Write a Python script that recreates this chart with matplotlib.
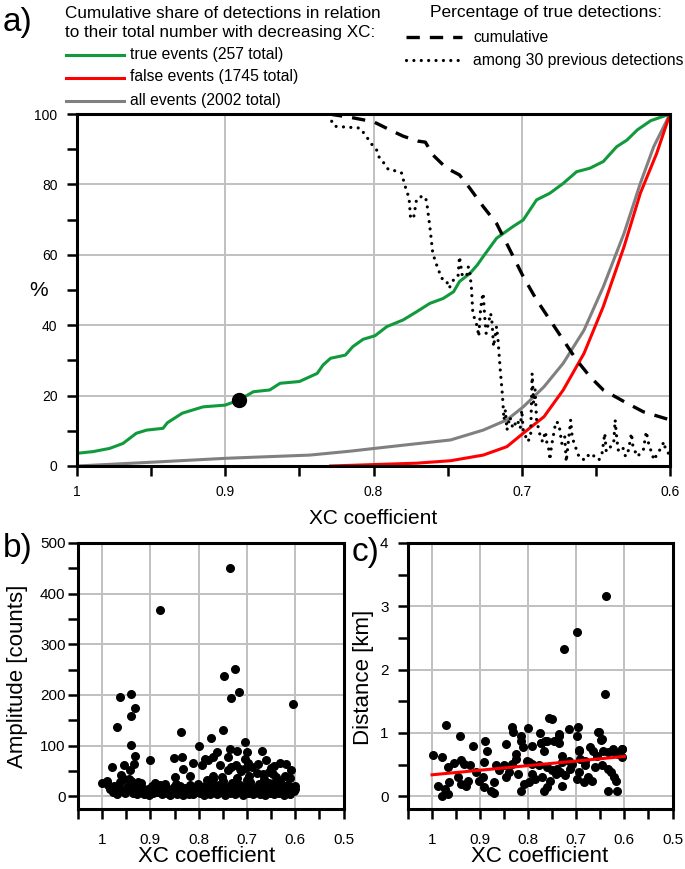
import matplotlib.pyplot as plt
from matplotlib.lines import Line2D

plt.rcParams['font.family'] = ['Liberation Sans', 'DejaVu Sans']

# ---- panel a: cumulative shares (XC coefficient -> %) ----
true_xc = [1.0, 0.989, 0.978, 0.969, 0.96, 0.953, 0.942, 0.939, 0.929, 0.915, 0.9, 0.891,
           0.881, 0.87, 0.863, 0.85, 0.838, 0.834, 0.829, 0.819, 0.814, 0.807, 0.799, 0.791,
           0.780, 0.771, 0.762, 0.753, 0.746, 0.742, 0.735, 0.730, 0.726, 0.717, 0.706, 0.699,
           0.690, 0.681, 0.672, 0.663, 0.654, 0.645, 0.636, 0.629, 0.622, 0.613, 0.6]
true_pct = [3.6, 4.1, 5.0, 6.4, 9.3, 10.2, 10.7, 12.3, 15.0, 16.8, 17.3, 18.7,
            21.1, 21.6, 23.5, 24.0, 26.3, 28.7, 30.6, 31.5, 33.9, 36.0, 37.0, 39.6,
            41.5, 43.8, 46.2, 47.6, 49.5, 52.4, 54.7, 57.1, 59.5, 64.7, 68.0, 69.9,
            75.6, 77.5, 80.3, 83.6, 84.6, 86.5, 90.7, 92.6, 95.5, 98.1, 100]

false_xc = [0.829, 0.771, 0.748, 0.726, 0.710, 0.699, 0.685, 0.672, 0.658, 0.645, 0.631, 0.620, 0.609, 0.6]
false_pct = [0, 0.8, 1.5, 3.1, 5.5, 9.3, 14.0, 21.6, 32.0, 45.3, 62.3, 77.5, 88.8, 100]

all_xc = [1.0, 0.944, 0.899, 0.843, 0.816, 0.793, 0.748, 0.726, 0.710, 0.699, 0.685, 0.672,
          0.658, 0.645, 0.631, 0.620, 0.611, 0.6]
all_pct = [0, 1.2, 2.2, 3.1, 4.2, 5.3, 7.4, 10.2, 13.1, 16.8, 22.5, 29.2,
           38.6, 50.9, 66.1, 80.3, 90.7, 100]

cum_xc = [0.83, 0.815, 0.80, 0.789, 0.78, 0.77, 0.765, 0.76, 0.751, 0.742, 0.735, 0.726,
          0.717, 0.708, 0.699, 0.690, 0.681, 0.672, 0.663, 0.654, 0.645, 0.631, 0.618, 0.6]
cum_pct = [100, 99.0, 97.8, 95.5, 93.7, 92.3, 92.0, 88.4, 84.7, 82.7, 78.9, 73.7,
           68.9, 61.4, 53.8, 47.2, 41.5, 35.8, 30.1, 25.4, 21.6, 18.3, 15.4, 13.1]

run_xc = [0.829, 0.828, 0.826, 0.809, 0.805, 0.801, 0.798, 0.796, 0.792, 0.790, 0.783, 0.781,
          0.779, 0.776, 0.775, 0.773, 0.771, 0.769, 0.765, 0.764, 0.762, 0.760, 0.757, 0.754,
          0.751, 0.749, 0.746, 0.743, 0.742, 0.740, 0.737, 0.736, 0.735, 0.734, 0.733, 0.730,
          0.729, 0.728, 0.727, 0.726, 0.725, 0.724, 0.721, 0.720, 0.719, 0.717, 0.716, 0.715,
          0.7145, 0.713, 0.712, 0.711, 0.710, 0.708, 0.706, 0.703, 0.701, 0.700, 0.699, 0.696,
          0.694, 0.693, 0.692, 0.691, 0.690, 0.688, 0.686, 0.684, 0.683, 0.682, 0.681, 0.680,
          0.677, 0.675, 0.674, 0.673, 0.671, 0.670, 0.667, 0.666, 0.665, 0.663, 0.661, 0.657,
          0.655, 0.653, 0.650, 0.648, 0.646, 0.644, 0.643, 0.640, 0.638, 0.637, 0.636, 0.635,
          0.632, 0.630, 0.628, 0.626, 0.625, 0.622, 0.620, 0.618, 0.616, 0.614, 0.612, 0.611,
          0.607, 0.604, 0.603, 0.601, 0.599]
run_pct = [100, 97.4, 96.5, 96.0, 93.7, 91.3, 89.9, 87.5, 85.6, 84.2, 83.7, 83.2,
           79.9, 76.1, 70.4, 70.4, 75.6, 76.5, 76.5, 74.6, 68.0, 60.4, 56.6, 53.3,
           52.9, 50.5, 52.9, 53.8, 59.5, 53.8, 54.3, 56.6, 54.7, 51.0, 43.4, 39.6,
           36.8, 43.4, 47.2, 49.1, 42.5, 37.7, 43.4, 40.6, 33.9, 39.6, 35.8, 30.1,
           27.3, 20.0, 13.1, 15.9, 10.2, 14.0, 10.7, 13.1, 10.7, 15.9, 10.2, 6.9,
           8.3, 26.3, 17.8, 21.6, 13.1, 9.3, 6.9, 9.8, 6.4, 5.5, 1.7, 5.5,
           12.6, 12.1, 9.3, 6.4, 8.3, 1.2, 13.1, 8.3, 6.9, 4.5, 2.2, 1.7,
           3.1, 3.6, 2.2, 1.7, 3.1, 9.3, 4.1, 5.5, 6.4, 13.1, 8.3, 4.5,
           5.5, 2.7, 4.5, 9.3, 5.5, 2.7, 3.6, 4.5, 9.8, 5.5, 3.6, 1.7,
           4.5, 6.9, 4.5, 3.6, 2.7]

marker_xc, marker_pct = 0.891, 18.7

# ---- panel b: amplitude of true events ----
amp_xc = [0.735, 0.881, 0.725, 0.748, 0.716, 0.733, 0.605, 0.964, 0.940, 0.931, 0.940, 0.970,
          0.940, 0.836, 0.749, 0.775, 0.799, 0.705, 0.900, 0.933, 0.979, 0.955, 0.942, 0.935,
          0.851, 0.835, 0.832, 0.812, 0.819, 0.849, 0.794, 0.787, 0.780, 0.770, 0.763, 0.756,
          0.740, 0.735, 0.720, 0.722, 0.715, 0.701, 0.705, 0.698, 0.696, 0.677, 0.668, 0.660,
          0.667, 0.645, 0.632, 0.619, 0.608, 0.646, 0.622, 0.751, 0.770, 0.679,
          0.740, 0.733, 0.712, 0.703, 0.690, 0.655, 0.650, 0.782, 0.770, 0.720, 0.700, 0.665,
          0.640, 0.640, 0.612, 0.600, 0.960, 0.945, 0.920,
          1.0, 0.990, 0.987, 0.983, 0.978, 0.976, 0.972, 0.969, 0.965, 0.962, 0.959, 0.955,
          0.952, 0.948, 0.944, 0.941, 0.937, 0.935, 0.931, 0.928, 0.925, 0.921, 0.918, 0.914,
          0.911, 0.906, 0.903, 0.900, 0.897, 0.894, 0.891, 0.887, 0.884, 0.880, 0.877, 0.873,
          0.870, 0.866, 0.863, 0.859, 0.855, 0.852, 0.848, 0.845, 0.842, 0.838, 0.835, 0.832,
          0.828, 0.825, 0.821, 0.818, 0.814, 0.811, 0.808, 0.804, 0.801, 0.797, 0.794, 0.790,
          0.787, 0.783, 0.780, 0.776, 0.773, 0.770, 0.766, 0.763, 0.759, 0.756, 0.752, 0.749,
          0.746, 0.742, 0.739, 0.735, 0.732, 0.728, 0.725, 0.721, 0.718, 0.714, 0.711, 0.708,
          0.704, 0.701, 0.697, 0.694, 0.690, 0.687, 0.683, 0.680, 0.676, 0.673, 0.669, 0.666,
          0.662, 0.659, 0.655, 0.652, 0.648, 0.645, 0.641, 0.638, 0.634, 0.631, 0.627, 0.624,
          0.620, 0.617, 0.613, 0.610, 0.606, 0.603, 0.600]
amp_val = [450, 367, 251, 237, 206, 195, 183, 197, 201, 174, 158, 136,
           102, 127, 131, 115, 99, 107, 72, 79, 58, 61, 51, 64,
           76, 77, 53, 66, 40, 38, 61, 74, 72, 77, 87, 61,
           77, 94, 90, 61, 54, 87, 74, 65, 41, 63, 90, 72,
           44, 59, 66, 64, 51, 44, 41, 38, 41, 47,
           52, 58, 50, 55, 58, 49, 56, 33, 34, 36, 33, 35,
           30, 38, 36, 20, 42, 35, 26,
           27, 31, 22, 14, 8, 20, 12, 5, 17, 28, 10, 35,
           6, 18, 12, 30, 7, 22, 13, 4, 29, 10, 17, 5,
           8, 14, 3, 11, 20, 6, 27, 9, 15, 22, 4, 12,
           25, 7, 14, 3, 9, 18, 24, 5, 13, 20, 8, 3,
           16, 10, 5, 22, 12, 4, 8, 17, 25, 6, 13, 3,
           20, 9, 15, 5, 28, 11, 18, 4, 22, 8, 14, 31,
           3, 10, 19, 6, 26, 12, 4, 17, 8, 23, 14, 3,
           9, 20, 6, 28, 12, 4, 16, 9, 24, 5, 13, 19,
           3, 10, 27, 7, 15, 4, 21, 11, 6, 30, 14, 3,
           9, 22, 12, 5, 18, 10, 15]

# ---- panel c: distance of true events ----
dist_xc = [0.638, 0.698, 0.725, 0.640, 0.970, 0.999, 0.941, 0.979, 0.914, 0.890, 0.885, 0.847,
           0.834, 0.831, 0.814, 0.816, 0.810, 0.826, 0.800, 0.776, 0.757, 0.750, 0.766, 0.737,
           0.716, 0.697, 0.699, 0.695, 0.653, 0.647, 0.623, 0.605, 0.634, 0.979,
           0.967, 0.955, 0.939, 0.934, 0.922, 0.988, 0.974, 0.966, 0.964, 0.946, 0.939, 0.929,
           0.926, 0.908, 0.902, 0.895, 0.891, 0.891, 0.878, 0.871, 0.867, 0.871, 0.860, 0.850,
           0.847, 0.840, 0.833, 0.822, 0.826, 0.816, 0.809, 0.802,
           0.774, 0.792, 0.774, 0.760, 0.747, 0.737, 0.735, 0.768, 0.799, 0.792, 0.778, 0.760,
           0.750, 0.740, 0.730, 0.730, 0.716, 0.709, 0.695, 0.692, 0.682, 0.671, 0.665, 0.658,
           0.654, 0.649, 0.644, 0.634, 0.623, 0.613, 0.605, 0.606, 0.647, 0.634, 0.627, 0.621,
           0.618, 0.616, 0.792, 0.785, 0.799, 0.771, 0.768, 0.760, 0.754, 0.743, 0.733, 0.730,
           0.723, 0.713, 0.699, 0.695, 0.685, 0.675, 0.667, 0.682, 0.661]
dist_km = [3.16, 2.59, 2.32, 1.62, 1.13, 0.66, 0.955, 0.62, 0.79, 0.88, 0.71, 0.83,
           1.10, 1.01, 0.96, 0.88, 0.78, 0.67, 1.08, 1.0, 1.23, 1.22, 0.87, 0.99,
           1.07, 1.09, 0.95, 0.73, 1.01, 0.91, 0.74, 0.74, 0.09, 0.01,
           0.46, 0.52, 0.58, 0.51, 0.49, 0.17, 0.12, 0.04, 0.22, 0.30, 0.20, 0.17,
           0.25, 0.38, 0.25, 0.30, 0.54, 0.15, 0.09, 0.06, 0.49, 0.22, 0.41, 0.49,
           0.30, 0.38, 0.51, 0.35, 0.59, 0.09, 0.20, 0.56,
           0.85, 0.80, 0.85, 0.87, 0.88, 0.84, 0.96, 0.72, 0.54, 0.51, 0.49, 0.46,
           0.41, 0.43, 0.64, 0.54, 0.56, 0.51, 0.72, 0.59, 0.56, 0.78, 0.72, 0.64,
           1.01, 0.89, 0.72, 0.70, 0.72, 0.67, 0.75, 0.62, 0.49, 0.43, 0.38, 0.30,
           0.25, 0.09, 0.35, 0.28, 0.22, 0.30, 0.09, 0.14, 0.25, 0.35, 0.38, 0.17,
           0.33, 0.43, 0.28, 0.38, 0.22, 0.30, 0.25, 0.49, 0.46]
fit_xc = [1.0, 0.6]
fit_km = [0.34, 0.63]

GREEN = '#109a3c'
GRID = '#c0c0c0'
DOTS = (0, (0.01, 2.3))


def px(x, y):
    return x / 685, 1 - y / 869


def style(ax, labelsize, xpad, ypad):
    for s in ax.spines.values():
        s.set_linewidth(2.2)
        s.set_color('black')
    ax.tick_params(which='both', direction='out', length=7, width=1.8, color='black')
    ax.tick_params(axis='x', labelsize=labelsize, pad=xpad)
    ax.tick_params(axis='y', labelsize=labelsize, pad=ypad)
    ax.grid(True, which='major', color=GRID, lw=1.4)
    ax.set_axisbelow(True)


fig = plt.figure(figsize=(6.85, 8.69), dpi=100)

# panel a
ax = fig.add_axes([77 / 685, 1 - 466 / 869, 593 / 685, 352 / 869])
ax.plot(all_xc, all_pct, color='#808080', lw=2.2)
ax.plot(false_xc, false_pct, color='red', lw=2.2)
ax.plot(true_xc, true_pct, color=GREEN, lw=2.2)
ax.plot(cum_xc, cum_pct, color='black', lw=2.4, linestyle=(0, (4, 3)))
ax.plot(run_xc, run_pct, color='black', lw=2.3, linestyle=DOTS, dash_capstyle='round')
ax.plot(marker_xc, marker_pct, 'o', color='black', ms=10, zorder=5)
ax.set_xlim(1, 0.6)
ax.set_ylim(0, 100)
ax.set_xticks([1, 0.9, 0.8, 0.7, 0.6])
ax.set_xticklabels(['1', '0.9', '0.8', '0.7', '0.6'])
ax.set_xticks([0.95, 0.85, 0.75, 0.65], minor=True)
ax.set_yticks(range(0, 101, 20))
ax.set_yticks(range(10, 100, 20), minor=True)
style(ax, 10, 7, 7)
fig.text(*px(39, 290), '%', fontsize=15, ha='center', va='center')
fig.text(*px(373, 518), 'XC coefficient', fontsize=15, ha='center', va='center')

# legend block drawn in figure pixels
fig.text(*px(18, 22), 'a)', fontsize=24, ha='center', va='center')
fig.text(*px(65, 13), 'Cumulative share of detections in relation', fontsize=12.3, va='center')
fig.text(*px(65, 32), 'to their total number with decreasing XC:', fontsize=12.3, va='center')
leg_left = [('true events (257 total)', GREEN, 55), ('false events (1745 total)', 'red', 78),
            ('all events (2002 total)', '#808080', 101)]
for label, col, yy in leg_left:
    x0, y0 = px(66, yy)
    x1, _ = px(124, yy)
    fig.add_artist(Line2D([x0, x1], [y0, y0], color=col, lw=2.2))
    fig.text(*px(130, yy - 1), label, fontsize=11.3, va='center')
fig.text(*px(430, 13), 'Percentage of true detections:', fontsize=12.5, va='center')
x0, y0 = px(406, 37)
x1, _ = px(462, 37)
fig.add_artist(Line2D([x0, x1], [y0, y0], color='black', lw=2.4, linestyle=(0, (4, 3))))
fig.text(*px(473, 37), 'cumulative', fontsize=11.3, va='center')
x0, y0 = px(406, 60)
fig.add_artist(Line2D([x0, x1], [y0, y0], color='black', lw=2.3, linestyle=DOTS,
                      dash_capstyle='round'))
fig.text(*px(473, 60), 'among 30 previous detections', fontsize=11.3, va='center')

# panel b
bx = fig.add_axes([78 / 685, 1 - 809 / 869, 265.6 / 685, 266 / 869])
bx.scatter(amp_xc, amp_val, s=30, color='black', zorder=3)
bx.set_xlim(1.05, 0.5)
bx.set_ylim(-25, 500)
bx.set_xticks([1, 0.9, 0.8, 0.7, 0.6, 0.5])
bx.set_xticklabels(['1', '0.9', '0.8', '0.7', '0.6', '0.5'])
bx.set_xticks([1.05, 0.95, 0.85, 0.75, 0.65, 0.55], minor=True)
bx.set_yticks(range(0, 501, 100))
bx.set_yticks(range(50, 500, 100), minor=True)
style(bx, 11, 10, 2)
fig.text(*px(18, 548), 'b)', fontsize=24, ha='center', va='center')
fig.text(*px(207, 857), 'XC coefficient', fontsize=16, ha='center', va='center')
fig.text(*px(18, 676), 'Amplitude [counts]', fontsize=16, ha='center', va='center', rotation=90)

# panel c
cx = fig.add_axes([408 / 685, 1 - 809 / 869, 264.5 / 685, 266 / 869])
cx.scatter(dist_xc, dist_km, s=30, color='black', zorder=3)
cx.plot(fit_xc, fit_km, color='red', lw=2.2, zorder=4)
cx.set_xlim(1.05, 0.5)
cx.set_ylim(-0.2, 4)
cx.set_xticks([1, 0.9, 0.8, 0.7, 0.6, 0.5])
cx.set_xticklabels(['1', '0.9', '0.8', '0.7', '0.6', '0.5'])
cx.set_xticks([1.05, 0.95, 0.85, 0.75, 0.65, 0.55], minor=True)
cx.set_yticks(range(0, 5))
cx.set_yticks([0.5, 1.5, 2.5, 3.5], minor=True)
style(cx, 11, 10, 7)
fig.text(*px(366, 553), 'c)', fontsize=24, ha='center', va='center')
fig.text(*px(540, 857), 'XC coefficient', fontsize=16, ha='center', va='center')
fig.text(*px(364, 677), 'Distance [km]', fontsize=16, ha='center', va='center', rotation=90)

fig.savefig('out.png', dpi=100)
